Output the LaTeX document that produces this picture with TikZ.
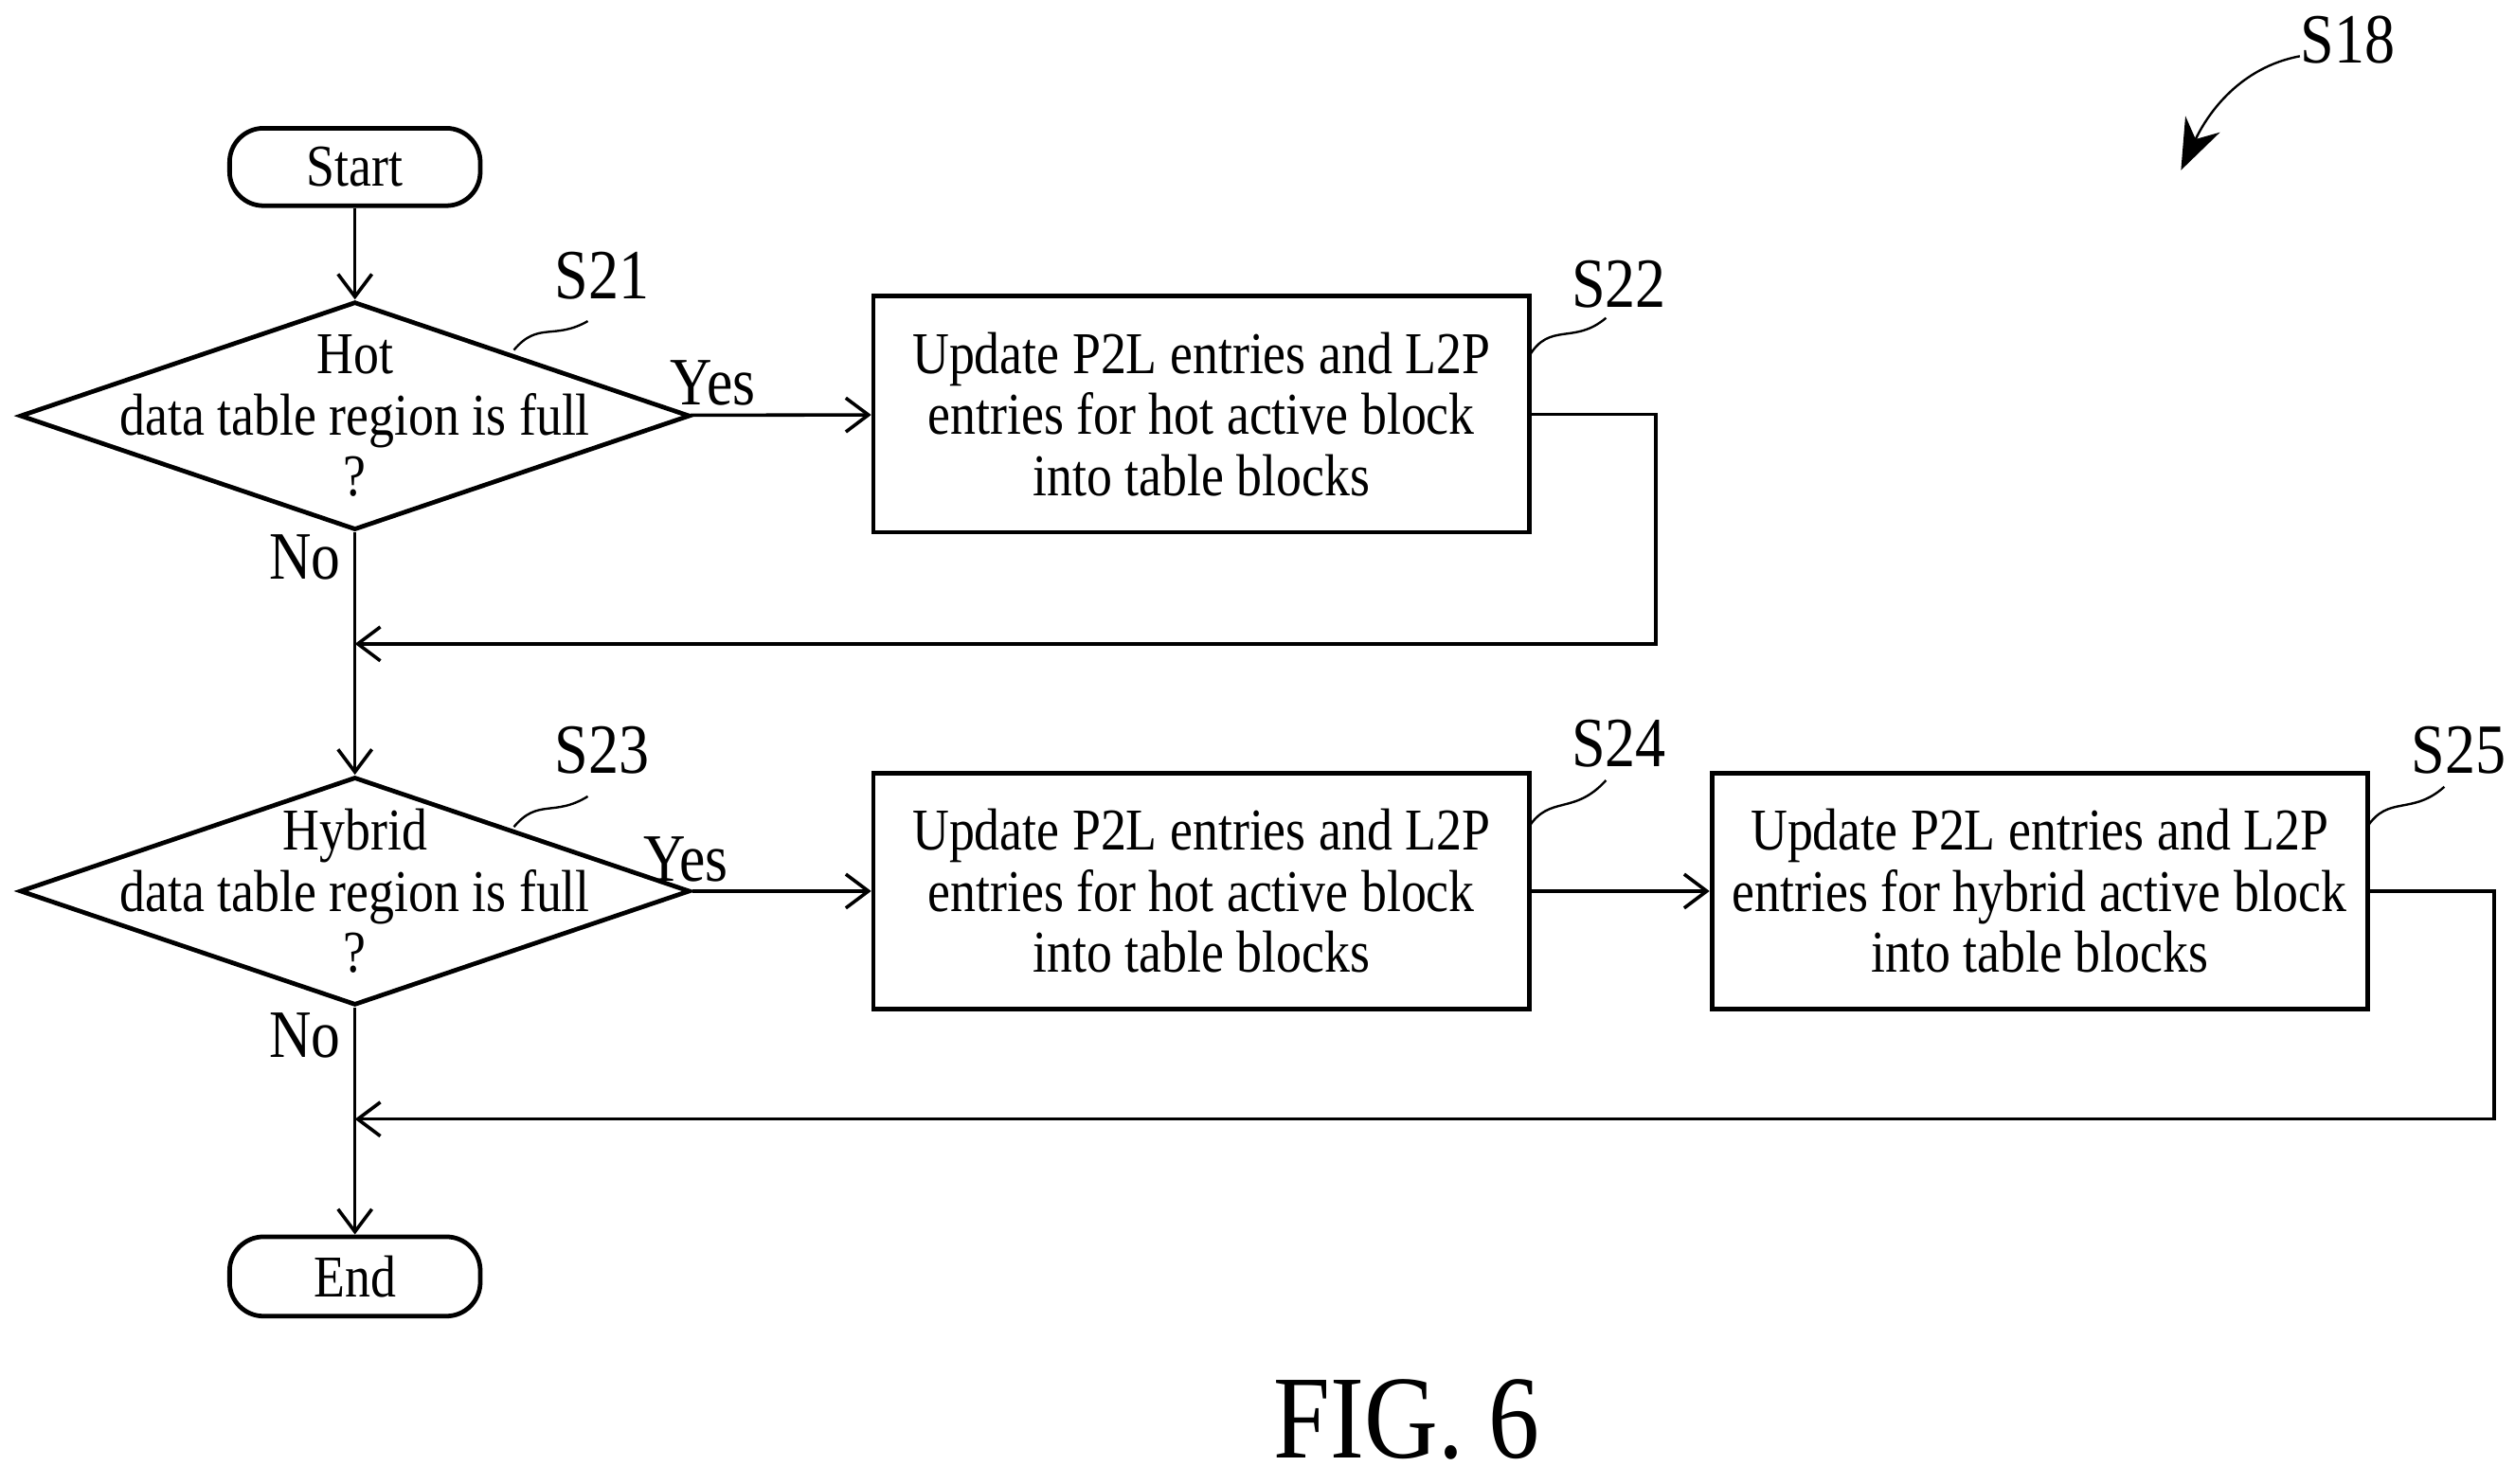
\documentclass[tikz,border=0pt]{standalone}
\usepackage{fontspec}
\setmainfont{Liberation Serif}[FakeStretch=0.86]
\usetikzlibrary{positioning, arrows.meta, shapes.geometric}

\begin{document}
\begin{tikzpicture}[
    x=0.01cm, y=-0.01cm,
    font=\fontsize{10.5}{10.8}\selectfont,
    % styles
    term/.style={
        rectangle,
        rounded corners=6pt,
        draw, thick,
        minimum width=1.56cm,
        minimum height=0.42cm
    },
    decision/.style={
        diamond,
        draw, thick,
        aspect=2.94,
        minimum width=4.17cm,
        minimum height=1.42cm,
        inner sep=0pt
    },
    stepbox/.style={
        rectangle,
        draw, thick,
        minimum width=4.08cm,
        minimum height=1.47cm,
        align=center
    },
    arrow/.style={
        -{Straight Barb[length=4pt, width=6pt]},
        semithick
    },
    tag/.style={font=\fontsize{12.5}{13}\selectfont},
    answer/.style={font=\fontsize{12}{13}\selectfont}
]
\useasboundingbox (0,0) rectangle (1566,924);

% === Terminals ===
\node[term] (start) at (221,104) {Start};
\node[term] (end) at (221,795) {End};

% === First decision ===
\node[decision] (hotq) at (221,259) {};
\node[align=center] (hotqtext) at (hotq) {Hot\\data table region is full\\?};
\node[stepbox] (hotupd) at (748,258)
    {Update P2L entries and L2P\\entries for hot active block\\into table blocks};
\coordinate (join1) at (221,401);

% === Second decision ===
\node[decision] (hybq) at (221,555) {};
\node[align=center] (hybqtext) at (hybq) {Hybrid\\data table region is full\\?};
\node[stepbox] (hotupd2) at (748,555)
    {Update P2L entries and L2P\\entries for hot active block\\into table blocks};
\node[stepbox] (hybupd) at (1270,555)
    {Update P2L entries and L2P\\entries for hybrid active block\\into table blocks};
\coordinate (join2) at (221,697);

% === Arrows ===
\draw[arrow] (start) -- (hotq);
\draw[arrow] (hotq) -- node[answer, above=-2pt, xshift=-12pt] {Yes} (hotupd);
\draw[semithick] (hotq.south) -- (join1);
\draw[arrow] (hotupd.east) -- (1031,258) |- (join1);
\draw[arrow] (join1) -- (hybq);
\draw[arrow] (hybq) -- node[answer, above=-2pt, xshift=-17pt] {Yes} (hotupd2);
\draw[arrow] (hotupd2) -- (hybupd);
\draw[semithick] (hybq.south) -- (join2);
\draw[arrow] (hybupd.east) -- (1553,555) |- (join2);
\draw[arrow] (join2) -- (end);

\node[answer] at (190,347) {No};
\node[answer] at (190,645) {No};

% === Step tags ===
\node[tag] (s21) at (375,172) {S21};
\draw (320,218) .. controls (335,200) and (345,212) .. (366,200);
\node[tag] (s22) at (1008,177) {S22};
\draw (952,222) .. controls (965,200) and (980,215) .. (1000,198);
\node[tag] (s23) at (375,467) {S23};
\draw (320,515) .. controls (335,497) and (345,509) .. (366,496);
\node[tag] (s24) at (1008,463) {S24};
\draw (952,515) .. controls (965,495) and (980,508) .. (1000,486);
\node[tag] (s25) at (1531,467) {S25};
\draw (1474,515) .. controls (1487,495) and (1502,508) .. (1522,490);

% === Figure tag ===
\node[tag] (s18) at (1462,25) {S18};
\draw[-{Stealth[length=9pt]}] (1432,35) .. controls (1395,42) and (1375,70) .. (1358,106);
\node[font=\fontsize{21}{23}\selectfont] (fig) at (876,884) {FIG. 6};

\end{tikzpicture}
\end{document}
